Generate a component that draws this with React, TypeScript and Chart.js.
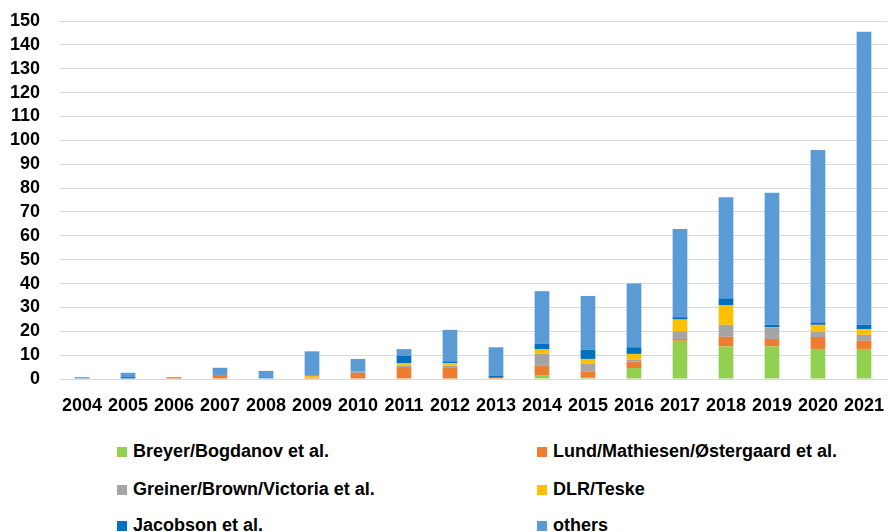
import React, { useEffect, useRef } from "react";
import { Chart, registerables } from "chart.js";

Chart.register(...registerables);

const years = ["2004","2005","2006","2007","2008","2009","2010","2011","2012","2013","2014","2015","2016","2017","2018","2019","2020","2021"];
const breyer = [0,0,0,0,0,0,0,0,0,0,1.4,0.5,4.6,16,13.6,13.6,12.6,12.6];
const lund = [0,0,0.8,1.7,0,0.5,2.5,5,4.6,0.5,4.1,2.7,2.7,0.8,4.1,3.2,5,3.4];
const greiner = [0,0,0,0,0,0,0.8,0.6,1,0,5.1,3.2,0.8,3.2,5,4.9,2.2,2.5];
const dlr = [0,0,0,0,0,0.8,0,1.1,1,0,1.8,2,2.4,4.9,8.3,0,2.9,2.4];
const jacobson = [0,0.8,0,0,0,0,0,3,0.8,0.8,2.4,3.9,2.8,1,2.8,1,1,1.8];
const others = [0.8,1.8,0,3,3.4,10.3,5.1,2.8,13.2,12,22,22.5,26.7,37,42.4,55.3,72.3,122.8];

const seriesNames = [
  "Breyer/Bogdanov et al.",
  "Lund/Mathiesen/Østergaard et al.",
  "Greiner/Brown/Victoria et al.",
  "DLR/Teske",
  "Jacobson et al.",
  "others",
];
const seriesColors = ["#92D050", "#ED7D31", "#A5A5A5", "#FFC000", "#0070C0", "#5B9BD5"];
const seriesData = [breyer, lund, greiner, dlr, jacobson, others];

const yTicks = { min: 0, max: 150, step: 10 };

const FONT = "'Liberation Sans', Arial, sans-serif";

export default function App() {
  const ref = useRef<HTMLCanvasElement | null>(null);

  useEffect(() => {
    if (!ref.current) return;
    const chart = new Chart(ref.current, {
      type: "bar",
      data: {
        labels: years,
        datasets: seriesNames.map((name, i) => ({
          label: name,
          data: seriesData[i],
          backgroundColor: seriesColors[i],
          borderWidth: 0,
          barPercentage: 0.32,
          categoryPercentage: 1,
        })),
      },
      options: {
        animation: false,
        responsive: false,
        devicePixelRatio: 1,
        layout: { padding: { top: 21, left: 0, right: 0, bottom: 0 } },
        plugins: {
          legend: { display: false },
          tooltip: { enabled: false },
        },
        scales: {
          x: {
            stacked: true,
            grid: { display: false, drawTicks: false },
            border: { display: false },
            ticks: {
              padding: 16,
              color: "#000",
              maxRotation: 0,
              autoSkip: false,
              font: { family: FONT, size: 18, weight: "bold" },
            },
            afterFit: (scale: any) => {
              scale.height = 46;
            },
          },
          y: {
            stacked: true,
            min: yTicks.min,
            max: yTicks.max,
            grid: { color: "#D9D9D9", lineWidth: 1, drawTicks: false },
            border: { display: false },
            ticks: {
              stepSize: yTicks.step,
              maxTicksLimit: 20,
              autoSkip: false,
              padding: 19,
              color: "#000",
              font: { family: FONT, size: 18, weight: "bold" },
            },
            afterFit: (scale: any) => {
              scale.width = 59;
              scale.paddingTop = 0;
              scale.paddingBottom = 0;
            },
          },
        },
      },
    });
    return () => chart.destroy();
  }, []);

  const legendRows = [452, 490, 526];
  const legendCols = [117, 537];

  return (
    <div
      style={{
        position: "fixed",
        left: 0,
        top: 0,
        width: 895,
        height: 532,
        overflow: "hidden",
        background: "#fff",
      }}
    >
      <canvas
        ref={ref}
        width={900}
        height={425}
        style={{ position: "absolute", left: 0, top: 0, width: 900, height: 425 }}
      />
      {seriesNames.map((name, i) => {
        const row = Math.floor(i / 2);
        const col = i % 2;
        return (
          <div
            key={name}
            style={{
              position: "absolute",
              left: legendCols[col],
              top: legendRows[row] - 13,
              height: 24,
              display: "flex",
              alignItems: "center",
              whiteSpace: "nowrap",
              fontFamily: FONT,
              fontWeight: "bold",
              fontSize: 18,
              lineHeight: "24px",
              color: "#000",
            }}
          >
            <span
              style={{
                display: "inline-block",
                width: 10,
                height: 10,
                background: seriesColors[i],
                marginRight: 6,
                marginTop: 2,
              }}
            />
            <span>{name}</span>
          </div>
        );
      })}
    </div>
  );
}
